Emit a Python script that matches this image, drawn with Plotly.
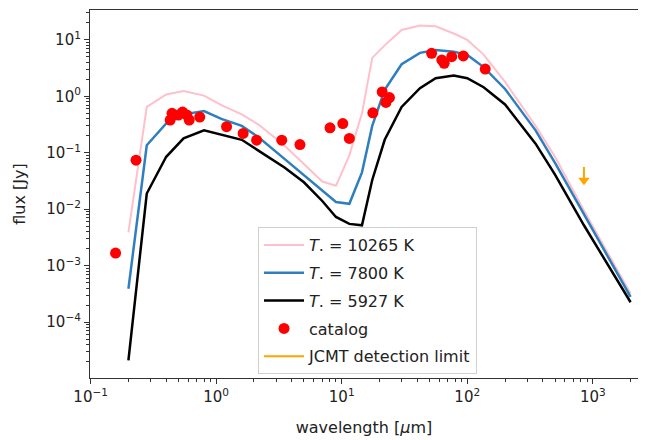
import plotly.graph_objects as go

# model wavelength grid [micron]
wl_model = [0.2, 0.28, 0.4, 0.55, 0.8, 1.1, 1.6, 2.2, 3.5, 5.0, 7.0, 9.0, 11.5, 14.5,
            17.5, 22, 30, 42, 56, 78, 100, 135, 200, 350, 500, 850, 1300, 2000]
flux_10265 = [3.9e-3, 0.65, 1.08, 1.24, 1.03, 0.70, 0.48, 0.31, 0.135, 0.063, 0.031, 0.026,
              0.09, 0.5, 4.8, 8.0, 15, 18, 17.5, 13, 10, 5.5, 1.8, 0.3, 0.085, 0.0095, 0.0018, 3.2e-4]
flux_7800 = [3.9e-4, 0.136, 0.33, 0.48, 0.55, 0.40, 0.30, 0.185, 0.078, 0.040, 0.022, 0.0134,
             0.0125, 0.045, 0.3, 1.3, 3.7, 5.9, 6.6, 6.2, 5.4, 3.3, 1.35, 0.25, 0.066, 0.0083, 0.00155, 2.8e-4]
flux_5927 = [2.1e-5, 0.019, 0.085, 0.18, 0.25, 0.21, 0.17, 0.107, 0.055, 0.03, 0.014, 0.0073,
             0.0055, 0.0052, 0.033, 0.17, 0.65, 1.4, 2.1, 2.35, 2.1, 1.45, 0.72, 0.145, 0.041, 0.0052, 0.0011, 2.25e-4]

# catalog photometry
wl_cat = [0.158, 0.23, 0.43, 0.445, 0.50, 0.54, 0.585, 0.61, 0.74, 1.21, 1.64, 2.1, 3.33, 4.65,
          8.07, 10.2, 11.5, 17.7, 21, 22.5, 24, 52, 62.7, 65.5, 75.2, 93, 139]
flux_cat = [0.00167, 0.074, 0.38, 0.50, 0.466, 0.526, 0.466, 0.38, 0.43, 0.29, 0.22, 0.167, 0.167, 0.14,
            0.277, 0.33, 0.18, 0.51, 1.2, 0.78, 0.95, 5.8, 4.4, 3.85, 5.05, 5.2, 3.05]

# JCMT upper limit
wl_jcmt = [850]
flux_jcmt = [0.056]

# tick labels
x_tickvals = [0.1, 1, 10, 100, 1000]
x_ticktext = ["10<sup>−1</sup>", "10<sup>0</sup>", "10<sup>1</sup>", "10<sup>2</sup>", "10<sup>3</sup>"]
y_tickvals = [1e-4, 1e-3, 1e-2, 1e-1, 1, 10]
y_ticktext = ["10<sup>−4</sup>", "10<sup>−3</sup>", "10<sup>−2</sup>", "10<sup>−1</sup>", "10<sup>0</sup>", "10<sup>1</sup>"]

labels = ["<i>T</i>. = 10265 K", "<i>T</i>. = 7800 K", "<i>T</i>. = 5927 K"]
colors = ["#ffc0cb", "#2f7fbf", "#000000"]
widths = [2, 2.5, 2.5]


def minor_vals(lo, hi):
    return [k * 10.0 ** e for e in range(lo, hi) for k in range(2, 10)]


FONT = "DejaVu Sans"
fig = go.Figure()
for i, (f, lab, c, w) in enumerate(zip([flux_10265, flux_7800, flux_5927], labels, colors, widths)):
    fig.add_trace(go.Scatter(x=wl_model, y=f, mode="lines", name=lab, legendgroup=f"g{i}",
                             line=dict(color=c, width=w)))

fig.add_trace(go.Scatter(x=wl_cat, y=flux_cat, mode="markers", name="catalog", legendgroup="g3",
                         marker=dict(color="red", size=11, line=dict(width=0))))

# arrow (upper limit)
stem_y = [flux_jcmt[0], flux_jcmt[0] * 0.6]
fig.add_trace(go.Scatter(x=wl_jcmt * 2, y=stem_y, mode="lines", name="JCMT detection limit",
                         legendgroup="g4", line=dict(color="orange", width=2)))
fig.add_trace(go.Scatter(x=wl_jcmt, y=[flux_jcmt[0] * 0.58], mode="markers", showlegend=False,
                         legendgroup="g4",
                         marker=dict(symbol="triangle-down", color="orange", size=10)))

axis_common = dict(type="log", showline=True, linecolor="#333", linewidth=1.2, mirror=True,
                   ticks="outside", ticklen=5, tickcolor="#333", showgrid=False, zeroline=False,
                   automargin=False,
                   tickfont=dict(size=15, color="#222", family=FONT))

fig.update_xaxes(range=[-1.005, 3.36], tickvals=x_tickvals, ticktext=x_ticktext,
                 minor=dict(tickvals=minor_vals(-1, 4), ticks="outside", ticklen=2.5,
                            tickcolor="#333", showgrid=False),
                 title=dict(text="wavelength [<i>μ</i>m]", standoff=16,
                            font=dict(size=16, color="#222", family=FONT)), **axis_common)
fig.update_yaxes(range=[-4.99, 1.53], tickvals=y_tickvals, ticktext=y_ticktext,
                 minor=dict(tickvals=minor_vals(-5, 2), ticks="outside", ticklen=2.5,
                            tickcolor="#333", showgrid=False),
                 title=dict(text="flux [Jy]", standoff=16,
                            font=dict(size=16, color="#222", family=FONT)), **axis_common)

fig.update_layout(
    width=638, height=432,
    margin=dict(l=82, r=8, t=2, b=62),
    plot_bgcolor="white", paper_bgcolor="white",
    showlegend=True,
    legend=dict(x=0.3066, y=0.41, xanchor="left", yanchor="top",
                bgcolor="rgba(255,255,255,0.85)", bordercolor="#d0d0d0", borderwidth=1,
                font=dict(size=16, color="#222", family=FONT),
                tracegroupgap=4, itemwidth=40),
)

fig.write_html("out.html")
